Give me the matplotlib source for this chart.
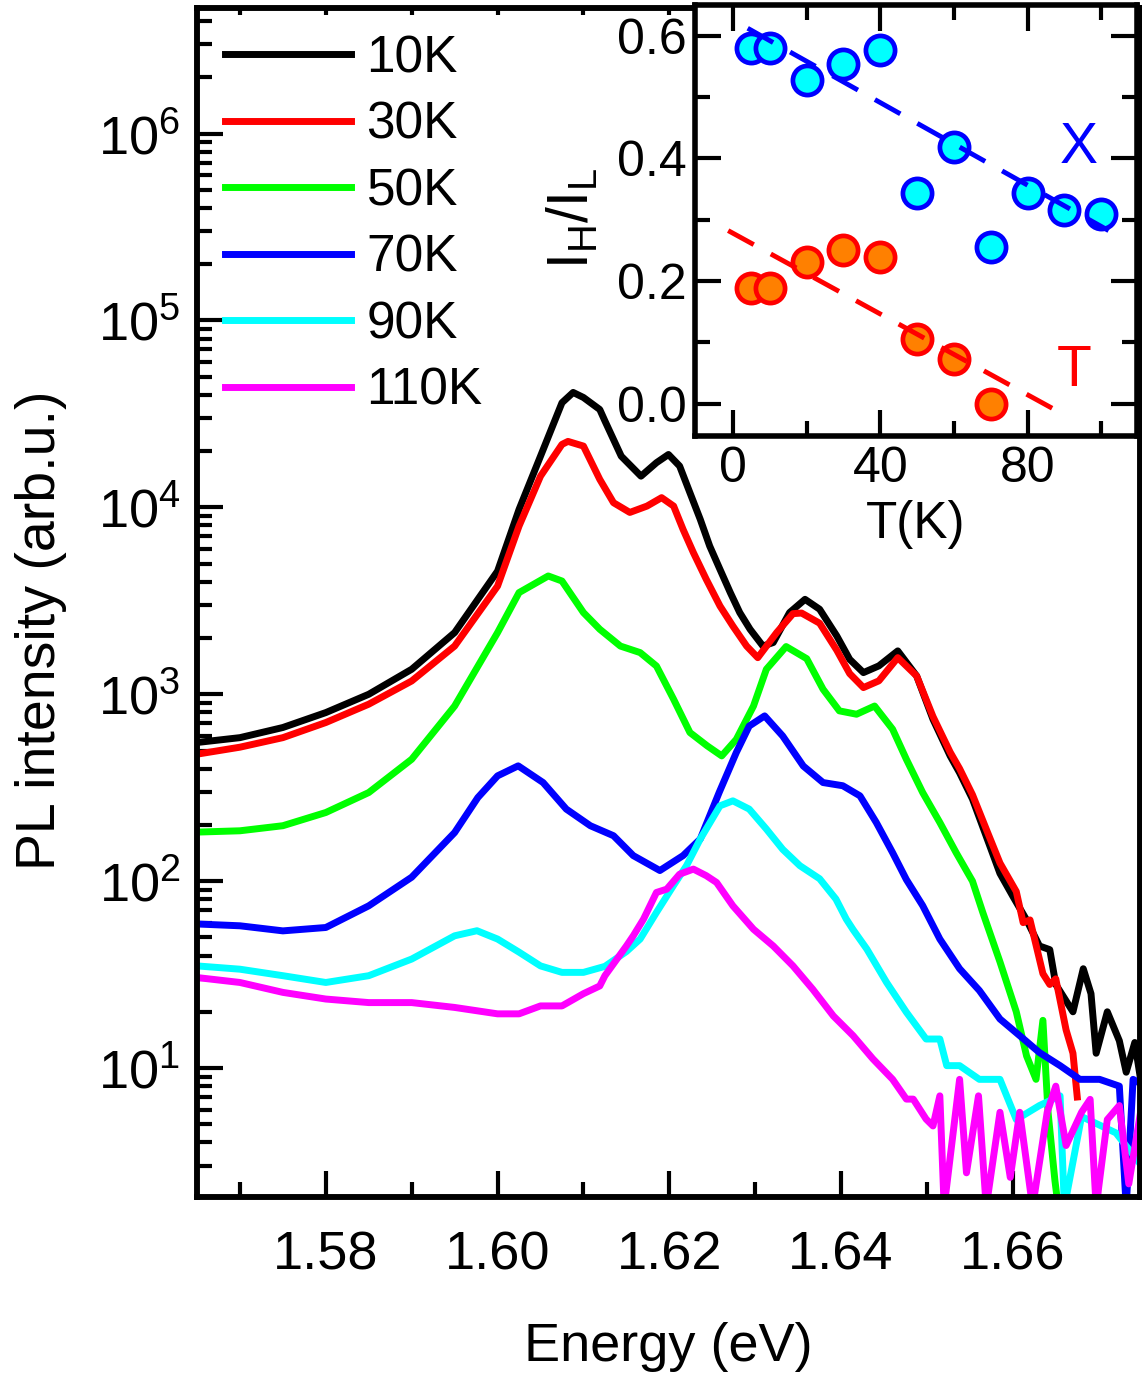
import numpy as np
import matplotlib
matplotlib.use('Agg')
import matplotlib.pyplot as plt
from matplotlib.ticker import FixedLocator, FuncFormatter, NullFormatter

# ---- PL spectra (energy in eV, intensity in arb.u.) ----
e_10k = [1.565, 1.570, 1.575, 1.580, 1.585, 1.590, 1.595, 1.600, 1.6025, 1.605, 1.6075, 1.6088,
         1.610, 1.6119, 1.6125, 1.6144, 1.6167, 1.6185, 1.6199, 1.6212, 1.6224, 1.6236, 1.6247,
         1.6259, 1.6271, 1.6282, 1.6294, 1.6309, 1.6321, 1.634, 1.6358, 1.6375, 1.6395, 1.641,
         1.6426, 1.6444, 1.6466, 1.6488, 1.6507, 1.6527, 1.6538, 1.6553, 1.6569, 1.6585, 1.660,
         1.6616, 1.6631, 1.6643, 1.665, 1.667, 1.6682, 1.6691, 1.6697, 1.671, 1.6724, 1.6732,
         1.6742, 1.675]
i_10k = [552, 586, 664, 798, 1000, 1361, 2138, 4560, 9750, 18793, 36308, 41210,
         38726, 33400, 29000, 18793, 14690, 17340, 19187, 16634, 11970, 8630, 6210,
         4656, 3499, 2735, 2228, 1811, 1892, 2735, 3221, 2851, 2051, 1538,
         1306, 1419, 1706, 1253, 735, 468, 380, 275, 174, 110, 83,
         62, 45, 43, 28, 20, 34, 25, 12, 20, 14, 9.5,
         13.7, 8]

e_30k = [1.565, 1.570, 1.575, 1.580, 1.585, 1.590, 1.595, 1.600, 1.6025, 1.605, 1.6075, 1.6082,
         1.610, 1.6119, 1.6135, 1.6154, 1.6174, 1.6191, 1.6205, 1.6216, 1.6228, 1.6243, 1.6259,
         1.6274, 1.629, 1.6303, 1.6325, 1.6344, 1.6354, 1.6375, 1.6395, 1.641, 1.6426, 1.6444,
         1.6466, 1.6488, 1.6507, 1.6527, 1.6538, 1.6553, 1.6569, 1.6585, 1.6604, 1.6612, 1.662,
         1.6635, 1.6643, 1.665, 1.6662, 1.667, 1.6675]
i_30k = [478, 521, 586, 706, 885, 1178, 1811, 3793, 7943, 14690, 21727, 22542,
         21281, 14125, 10593, 9397, 10162, 11272, 10162, 7621, 5728, 4121, 2965,
         2317, 1811, 1570, 2138, 2700, 2720, 2400, 1720, 1290, 1086, 1180,
         1570, 1253, 760, 490, 400, 290, 190, 125, 88, 60, 62,
         32, 28, 30, 16, 12, 7]

e_50k = [1.565, 1.570, 1.575, 1.580, 1.585, 1.590, 1.595, 1.600, 1.6025, 1.6059, 1.6075, 1.610,
         1.6119, 1.6143, 1.6166, 1.6185, 1.6205, 1.6224, 1.6244, 1.6261, 1.6278, 1.6298, 1.6313,
         1.6336, 1.636, 1.6379, 1.6398, 1.6418, 1.6439, 1.646, 1.6476, 1.6495, 1.6515, 1.6534,
         1.6553, 1.6565, 1.6585, 1.6604, 1.6616, 1.6627, 1.6635, 1.6641, 1.6649, 1.6655]
i_50k = [183, 186, 198, 233, 298, 449, 865, 2138, 3499, 4295, 4036, 2735,
         2228, 1811, 1671, 1416, 940, 624, 530, 468, 574, 865, 1361,
         1800, 1550, 1064, 815, 782, 865, 650, 449, 298, 206, 142,
         100, 68, 37, 20, 11.6, 8.7, 18, 5.8, 2.5, 1.5]

e_70k = [1.565, 1.570, 1.575, 1.580, 1.585, 1.590, 1.595, 1.5977, 1.600, 1.6024, 1.6053, 1.608,
         1.6108, 1.6135, 1.6158, 1.6189, 1.6216, 1.6236, 1.6258, 1.6278, 1.6293, 1.6311, 1.6332,
         1.6356, 1.6379, 1.6402, 1.6422, 1.6441, 1.646, 1.6476, 1.6495, 1.6515, 1.6538, 1.6561,
         1.6585, 1.6608, 1.6631, 1.6655, 1.6678, 1.6701, 1.6724, 1.6732, 1.674, 1.675]
i_70k = [59, 57.7, 54.2, 56.5, 73.8, 105, 182, 280, 366, 414, 337, 243,
         198, 175, 137, 114, 137, 168, 298, 488, 676, 766, 598,
         413, 337, 324, 286, 206, 142, 102, 74, 49, 34, 26,
         18.3, 14.9, 12.1, 10.3, 8.7, 8.7, 8.0, 1.8, 8.7, 8.2]

e_90k = [1.565, 1.570, 1.575, 1.580, 1.585, 1.590, 1.595, 1.5976, 1.600, 1.6025, 1.605, 1.6075,
         1.610, 1.6125, 1.615, 1.6166, 1.6185, 1.6205, 1.622, 1.6236, 1.6259, 1.6274, 1.6293,
         1.6313, 1.6332, 1.6352, 1.6375, 1.6394, 1.6406, 1.6414, 1.643, 1.6453, 1.6476, 1.6499,
         1.6515, 1.6523, 1.6538, 1.6561, 1.6585, 1.6604, 1.6631, 1.6655, 1.666, 1.668, 1.672, 1.675]
i_90k = [35.2, 33.8, 31.2, 28.7, 31.2, 38.3, 51, 54.3, 49, 41.7, 35.2, 32.5,
         32.5, 35, 42, 49, 68, 95, 121, 168, 253, 269, 243,
         190, 148, 121, 103, 80.2, 62.7, 55, 43.3, 28.7, 19.9, 14.3,
         14.3, 10.3, 10.3, 8.7, 8.7, 5.3, 6.3, 7.1, 1.8, 5.5, 4.5, 3]

e_110k = [1.565, 1.570, 1.575, 1.580, 1.585, 1.590, 1.595, 1.600, 1.6025, 1.605, 1.6075, 1.610,
          1.6119, 1.6125, 1.615, 1.6158, 1.617, 1.6185, 1.6197, 1.6212, 1.6228, 1.6243, 1.6255,
          1.6274, 1.6298, 1.6321, 1.6344, 1.6367, 1.6391, 1.6414, 1.6437, 1.646, 1.6476, 1.6484,
          1.6499, 1.6507, 1.6515, 1.652, 1.6538, 1.6546, 1.656, 1.6569, 1.6585, 1.6597, 1.6608,
          1.6623, 1.664, 1.665, 1.6662, 1.668, 1.669, 1.6697, 1.671, 1.6724, 1.6735, 1.675]
i_110k = [30.5, 28.7, 25.4, 23.4, 22.4, 22.4, 21.1, 19.5, 19.5, 21.5, 21.5, 25,
          27.5, 31.2, 45, 51, 62.7, 87, 90.6, 109, 116, 107, 98.4,
          73.8, 55.3, 45, 35.2, 26.4, 19, 14.9, 11.2, 8.7, 6.82, 6.82,
          5.33, 4.9, 7.1, 1.8, 8.7, 2.75, 7.1, 1.8, 5.8, 2.6, 5.8,
          1.8, 5.8, 8.0, 3.85, 5.8, 6.8, 1.8, 5.3, 6.3, 2.4, 6.3]

labels = ['10K', '30K', '50K', '70K', '90K', '110K']
colors = ['#000000', '#ff0000', '#00ff00', '#0000ff', '#00ffff', '#ff00ff']

y_decades = [1e1, 1e2, 1e3, 1e4, 1e5, 1e6]

# ---- inset: I_H/I_L versus temperature ----
t_x = [5, 10, 20, 30, 40, 50, 60, 70, 80, 90, 100]
r_x = [0.580, 0.580, 0.527, 0.553, 0.577, 0.344, 0.419, 0.256, 0.344, 0.315, 0.309]
t_t = [5, 10, 20, 30, 40, 50, 60, 70]
r_t = [0.189, 0.189, 0.230, 0.250, 0.239, 0.105, 0.073, 0.0]
fit_x_t = [4, 102]
fit_x_r = [0.612, 0.282]
fit_t_t = [-1.3, 90.4]
fit_t_r = [0.282, -0.020]

plt.rcParams.update({
    'font.family': ['Liberation Sans', 'DejaVu Sans'],
    'mathtext.fontset': 'custom',
    'mathtext.rm': 'Liberation Sans',
    'mathtext.default': 'regular',
})

fig = plt.figure(figsize=(11.42, 13.78), dpi=100)
ax = fig.add_axes([0.1725, 0.1313, 0.8257, 0.8629])

spectra = [(e_10k, i_10k), (e_30k, i_30k), (e_50k, i_50k),
           (e_70k, i_70k), (e_90k, i_90k), (e_110k, i_110k)]
for (e, i), lab, c in zip(spectra, labels, colors):
    ax.plot(e, i, color=c, lw=5, label=lab, solid_joinstyle='round')

ax.set_yscale('log')
ax.set_xlim(1.565, 1.6748)
ax.set_ylim(2.04, 4.7e6)

ax.xaxis.set_major_locator(FixedLocator([1.58, 1.60, 1.62, 1.64, 1.66]))
ax.xaxis.set_minor_locator(FixedLocator([1.57, 1.59, 1.61, 1.63, 1.65, 1.67]))
ax.xaxis.set_major_formatter(FuncFormatter(lambda v, p: f'{v:.2f}'))
minor_y = [m * d for d in [1e0] + y_decades for m in range(2, 10) if 2.04 < m * d < 4.7e6]
ax.yaxis.set_major_locator(FixedLocator(y_decades))
ax.yaxis.set_minor_locator(FixedLocator(minor_y))
ax.yaxis.set_minor_formatter(NullFormatter())
ax.yaxis.set_major_formatter(FuncFormatter(lambda v, p: r'$10^{%d}$' % round(np.log10(v))))

ax.tick_params(which='both', direction='in', width=3, top=False, right=False, labelsize=39)
ax.tick_params(which='major', length=19)
ax.tick_params(which='minor', length=11)
ax.tick_params(axis='x', pad=24)
ax.tick_params(axis='y', pad=12)
for s in ax.spines.values():
    s.set_linewidth(4)

# short ticks along the top edge
top = ax.twiny()
top.set_xlim(ax.get_xlim())
top.xaxis.set_major_locator(FixedLocator([1.57, 1.58, 1.59, 1.60, 1.61, 1.62, 1.63, 1.64, 1.65, 1.66, 1.67]))
top.xaxis.set_minor_locator(FixedLocator([]))
top.tick_params(direction='in', length=5, width=3, labeltop=False, labelbottom=False,
                bottom=False, top=True)
for s in top.spines.values():
    s.set_linewidth(4)

ax.set_xlabel('Energy (eV)', fontsize=39, labelpad=30)
ax.set_ylabel('PL intensity (arb.u.)', fontsize=40)
ax.yaxis.set_label_coords(-0.138, 0.477)

ax.legend(loc='upper left', bbox_to_anchor=(0.03, 0.978), frameon=False, fontsize=37,
          handlelength=2.45, handletextpad=0.3, labelspacing=0.34, borderpad=0,
          borderaxespad=0)

# ---- inset ----
ins = fig.add_axes([0.6086, 0.6836, 0.387, 0.3128])
ins.set_facecolor('white')
ins.plot(t_x, r_x, 'o', ms=21, mfc='#00ffff', mec='#0000ff', mew=3.4, zorder=2)
ins.plot(t_t, r_t, 'o', ms=21, mfc='#ff8000', mec='#ff0000', mew=3.4, zorder=2)
ins.plot(fit_x_t, fit_x_r, color='#0000ff', lw=3.5, dashes=(6, 4), zorder=3)
ins.plot(fit_t_t, fit_t_r, color='#ff0000', lw=3.5, dashes=(6, 4), zorder=3)
ins.text(94, 0.417, 'X', color='#0000ff', fontsize=41, ha='center', va='center')
ins.text(92.7, 0.0525, 'T', color='#ff0000', fontsize=41, ha='center', va='center')

ins.set_xlim(-10.3, 109.7)
ins.set_ylim(-0.053, 0.65)
ins.xaxis.set_major_locator(FixedLocator([0, 40, 80]))
ins.xaxis.set_minor_locator(FixedLocator([20, 60, 100]))
ins.yaxis.set_major_locator(FixedLocator([0.0, 0.2, 0.4, 0.6]))
ins.yaxis.set_minor_locator(FixedLocator([0.1, 0.3, 0.5]))
ins.yaxis.set_major_formatter(FuncFormatter(lambda v, p: f'{v:.1f}'))
ins.tick_params(which='both', direction='in', width=3, top=True, right=True, labelsize=36)
ins.tick_params(which='major', length=19)
ins.tick_params(which='minor', length=11)
ins.tick_params(axis='x', pad=7)
ins.tick_params(axis='y', pad=6)
for s in ins.spines.values():
    s.set_linewidth(4)
ins.set_xlabel('T(K)', fontsize=37, labelpad=6)
ins.set_ylabel(r'$I_H/I_L$', fontsize=41)
ins.yaxis.set_label_coords(-0.215, 0.506)

fig.savefig('out.png', dpi=100)
